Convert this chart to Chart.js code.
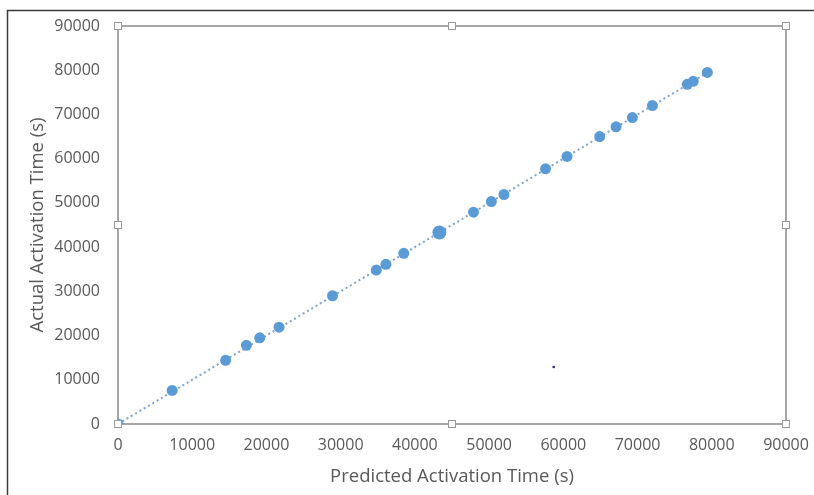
<!DOCTYPE html>
<html>
<head>
<meta charset="utf-8">
<script src="https://cdn.jsdelivr.net/npm/chart.js@4"></script>
<style>
  html, body { margin: 0; padding: 0; background: #fff; }
  #wrap { position: relative; width: 814px; height: 495px; }
</style>
</head>
<body>
<div id="wrap"><canvas id="chart" width="814" height="495"></canvas></div>
<script>
// predicted vs actual activation time (s)
const predicted = [0, 7300, 14500, 17300, 19100, 21700, 28900, 34800, 36100, 38500, 43300,
    47900, 50300, 52000, 57600, 60500, 64900, 67100, 69300, 72000, 76700, 77500, 79400];
const actual = [0, 7600, 14400, 17800, 19500, 21900, 29000, 34800, 36100, 38600, 43300,
    47900, 50300, 51900, 57700, 60500, 65000, 67200, 69300, 72000, 76800, 77500, 79500];

// dotted linear trendline end points
const trendX = [0, 79400];
const trendY = [0, 79400];

// the small stray dot in the plot
const strayX = [58700];
const strayY = [12900];

const axisMin = 0;
const axisMax = 90000;
const axisStep = 10000;

const pointsData = predicted.map((x, i) => ({ x: x, y: actual[i] }));
const trendData = trendX.map((x, i) => ({ x: x, y: trendY[i] }));
const strayData = strayX.map((x, i) => ({ x: x, y: strayY[i] }));

const textColor = '#595959';
const frameColor = '#a6a6a6';

// plot area frame, selection handles and the outer border
const framePlugin = {
    id: 'frame',
    beforeDraw(chart) {
        const ctx = chart.ctx;
        ctx.save();
        ctx.strokeStyle = '#3a3a3a';
        ctx.lineWidth = 1.5;
        ctx.beginPath();
        ctx.moveTo(7.5, 495);
        ctx.lineTo(7.5, 10.5);
        ctx.lineTo(814, 10.5);
        ctx.stroke();
        ctx.restore();
    },
    beforeDatasetsDraw(chart) {
        const { ctx, chartArea: a } = chart;
        ctx.save();
        ctx.strokeStyle = frameColor;
        ctx.lineWidth = 2;
        ctx.strokeRect(a.left, a.top, a.right - a.left, a.bottom - a.top);
        ctx.restore();
    },
    afterDraw(chart) {
        const { ctx, chartArea: a } = chart;
        const mx = (a.left + a.right) / 2;
        const my = (a.top + a.bottom) / 2;
        const spots = [[a.left, a.top], [mx, a.top], [a.right, a.top],
            [a.left, my], [a.right, my],
            [a.left, a.bottom], [mx, a.bottom], [a.right, a.bottom]];
        ctx.save();
        ctx.fillStyle = '#ffffff';
        ctx.strokeStyle = '#9a9a9a';
        ctx.lineWidth = 1;
        spots.forEach(([x, y]) => {
            ctx.fillRect(x - 4, y - 4, 8, 8);
            ctx.strokeRect(x - 4 + 0.5, y - 4 + 0.5, 7, 7);
        });
        ctx.restore();
    }
};

const plainTick = v => String(v);

new Chart(document.getElementById('chart'), {
    type: 'scatter',
    data: {
        datasets: [{
            label: 'Activation time',
            data: pointsData,
            backgroundColor: '#5b9bd5',
            borderColor: '#5b9bd5',
            pointRadius: ctx => ctx.dataIndex === 10 ? 7 : 5.5,
            pointBorderWidth: 0,
            order: 1
        }, {
            label: 'Trend',
            type: 'line',
            data: trendData,
            borderColor: '#7fa3cf',
            borderWidth: 2,
            borderDash: [2, 3],
            pointRadius: 0,
            fill: false,
            order: 2
        }, {
            label: 'Stray',
            data: strayData,
            backgroundColor: '#2a2f6a',
            pointRadius: 1.3,
            pointBorderWidth: 0,
            order: 0
        }]
    },
    options: {
        responsive: false,
        animation: false,
        events: [],
        layout: { padding: { left: 0, right: 28, top: 26, bottom: 0 } },
        plugins: {
            legend: { display: false },
            tooltip: { enabled: false }
        },
        scales: {
            x: {
                type: 'linear',
                min: axisMin,
                max: axisMax,
                grid: { display: false, drawTicks: false },
                border: { display: false },
                ticks: {
                    stepSize: axisStep,
                    color: textColor,
                    padding: 12,
                    maxRotation: 0,
                    callback: plainTick,
                    font: { family: 'Open Sans', size: 16 }
                },
                title: {
                    display: true,
                    text: 'Predicted Activation Time (s)',
                    color: textColor,
                    font: { family: 'Open Sans', size: 18.5 },
                    padding: { top: 0, bottom: 7 }
                },
                afterFit(scale) {
                    scale.height = 71;
                    scale.paddingRight = 0;
                    scale.paddingLeft = 0;
                }
            },
            y: {
                type: 'linear',
                min: axisMin,
                max: axisMax,
                grid: { display: false, drawTicks: false },
                border: { display: false },
                ticks: {
                    stepSize: axisStep,
                    color: textColor,
                    padding: 18,
                    callback: plainTick,
                    font: { family: 'Open Sans', size: 16 }
                },
                title: {
                    display: true,
                    text: 'Actual Activation Time (s)',
                    color: textColor,
                    font: { family: 'Open Sans', size: 18.5 },
                    padding: { top: 27, bottom: 0 }
                },
                afterFit(scale) {
                    scale.width = 118;
                    scale.paddingTop = 0;
                    scale.paddingBottom = 0;
                }
            }
        }
    },
    plugins: [framePlugin]
});
</script>
</body>
</html>
